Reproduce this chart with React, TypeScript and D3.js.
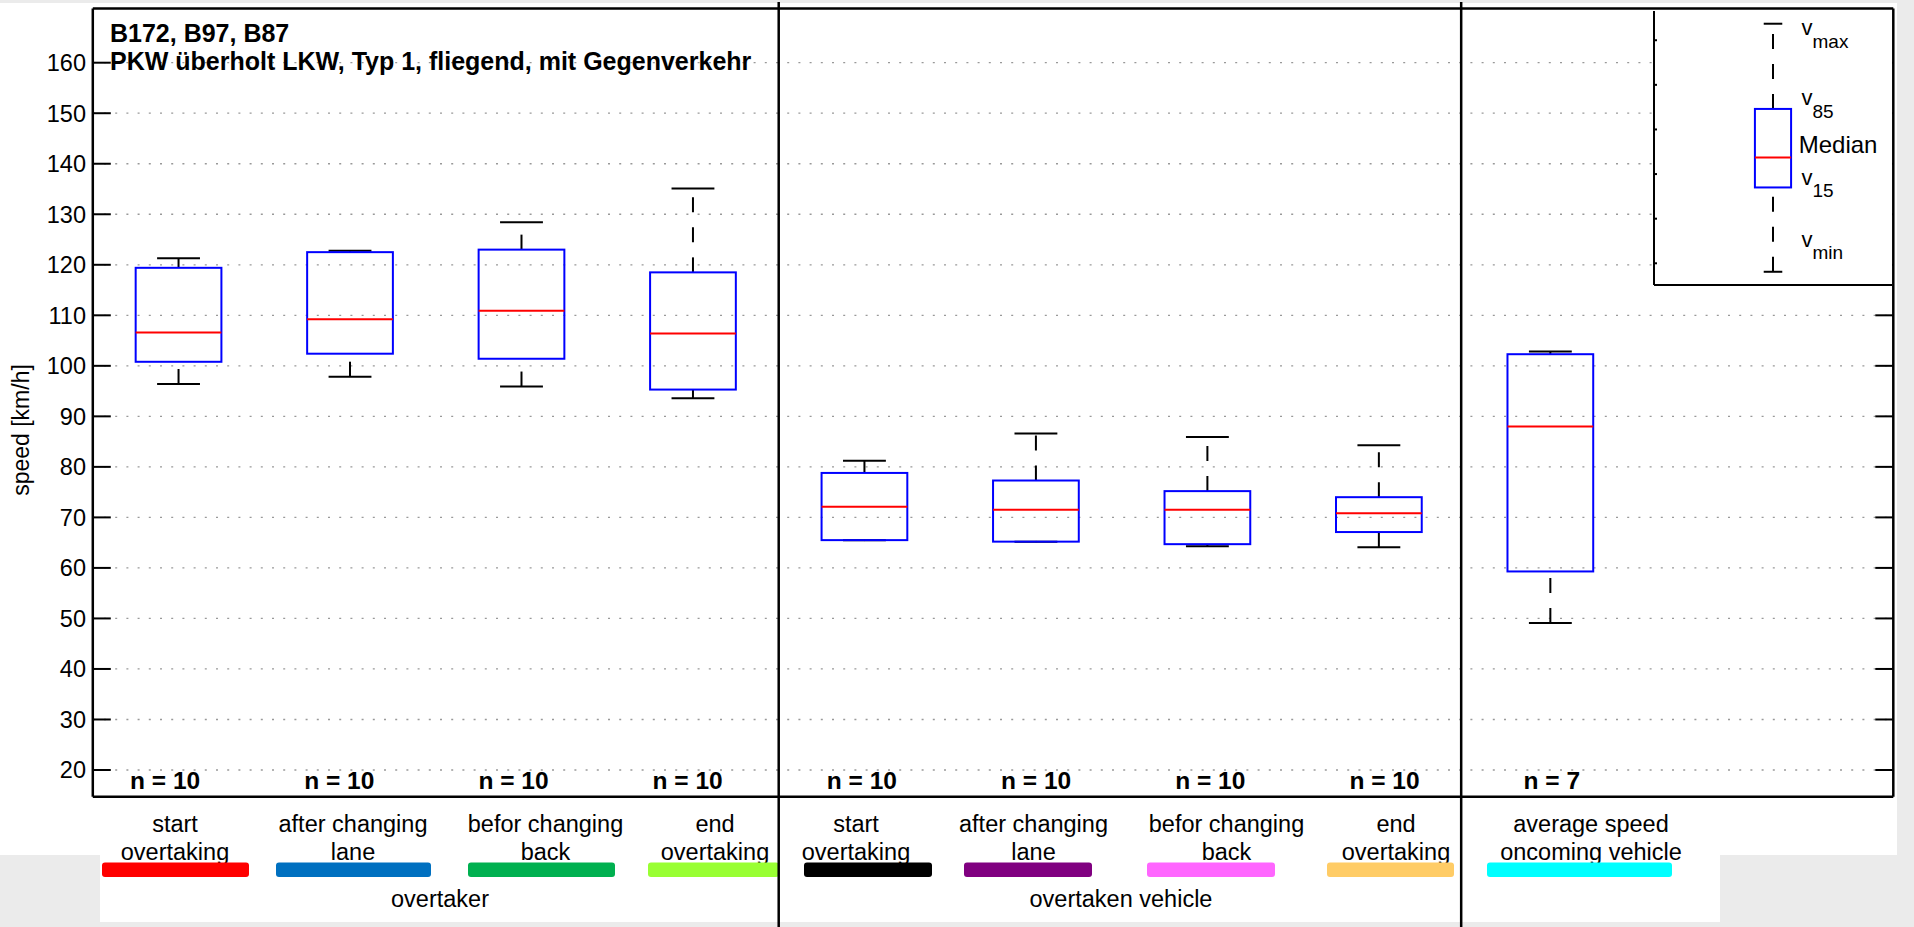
import React from 'react';
import * as d3 from 'd3';

// categories, two text lines each
const categories = [
  ['start', 'overtaking'],
  ['after changing', 'lane'],
  ['befor changing', 'back'],
  ['end', 'overtaking'],
  ['start', 'overtaking'],
  ['after changing', 'lane'],
  ['befor changing', 'back'],
  ['end', 'overtaking'],
  ['average speed', 'oncoming vehicle'],
];
const groups = ['overtaker', 'overtaken vehicle'];

// box statistics per category (km/h)
const vMin = [96.4, 97.85, 95.9, 93.6, 65.5, 65.2, 64.3, 64.1, 49.1];
const v15 = [100.8, 102.4, 101.4, 95.3, 65.5, 65.2, 64.7, 67.1, 59.3];
const vMedian = [106.6, 109.2, 110.9, 106.4, 72.1, 71.5, 71.5, 70.8, 88.0];
const v85 = [119.4, 122.5, 123.0, 118.5, 78.8, 77.3, 75.2, 74.0, 102.3];
const vMax = [121.3, 122.8, 128.4, 135.1, 81.2, 86.6, 85.9, 84.3, 102.85];
const sampleCounts = [10, 10, 10, 10, 10, 10, 10, 10, 7];

const yTicks = d3.range(20, 161, 10);
const swatchColors = ['#ff0000', '#0070c0', '#00b050', '#99ff33', '#000000', '#800080', '#ff66ff', '#ffcc66', '#00ffff'];

// key inset: sample box (min, v15, median, v85, max) in the inset's own units
const keyStats = [0.81, 2.7, 3.37, 4.46, 6.37];
const keyTicks = [1, 2, 3, 4, 5, 6];
const keyLabels = [['v', 'max'], ['v', '85'], ['Median', ''], ['v', '15'], ['v', 'min']];

// hand placed legend strip below the axis (pixels)
const stripCenters = [175, 353, 545.5, 715, 856, 1033.5, 1226.5, 1396, 1591];
const swatchSpans = [[102, 249], [276, 431], [468, 615], [648, 779], [804, 932], [964, 1092], [1147, 1275], [1327, 1454], [1487, 1672]];
const groupCenters = [440, 1121];
const keyLabelAt = [6.12, 4.55, 3.47, 2.76, 1.37];
const dividers = [4.5, 8.48];

const FONT = "'Liberation Sans', Arial, Helvetica, sans-serif";

export default function App() {
  const W = 1914, H = 927;
  const plot = { left: 92.8, right: 1893.3, top: 8.5, bottom: 796.7 };
  const x = d3.scaleLinear().domain([0.5, 11]).range([plot.left, plot.right]);
  const y = d3.scaleLinear().domain([20, 160]).range([770, 62.7]);
  const nx = d3.scaleLinear().domain([1, 9]).range([130, 1523.6]);
  const boxW = 0.5, capW = 0.25;

  const inset = { left: 1654, right: 1892, top: 9, bottom: 285 };
  const ix = d3.scaleLinear().domain([0.5, 1.5]).range([inset.left, inset.right]);
  const iy = d3.scaleLinear().domain([0.5, 6.7]).range([285.6, 9]);

  const dash = '15 15';

  return (
    <svg width={W} height={H} style={{ position: 'absolute', left: 0, top: 0, display: 'block' }} fontFamily={FONT}>
      <rect x={0} y={0} width={W} height={H} fill="#ebebeb" />
      <rect x={0} y={3} width={1897} height={852} fill="#fff" />
      <rect x={100} y={855} width={1620} height={67} fill="#fff" />

      {/* grid */}
      {yTicks.map(t => (
        <line key={'g' + t} x1={plot.left} x2={plot.right} y1={y(t)} y2={y(t)}
          stroke="#999" strokeWidth={1.3} strokeDasharray="2 9.2" />
      ))}

      {/* boxes */}
      {categories.map((c, i) => {
        const p = i + 1;
        const cx = x(p);
        return (
          <g key={'b' + i}>
            <path d={`M${cx},${y(v85[i])}V${y(vMax[i])}`} stroke="#000" strokeWidth={2} strokeDasharray={dash} fill="none" />
            <path d={`M${cx},${y(vMin[i])}V${y(v15[i])}`} stroke="#000" strokeWidth={2} strokeDasharray={dash} fill="none" />
            <line x1={x(p - capW / 2)} x2={x(p + capW / 2)} y1={y(vMax[i])} y2={y(vMax[i])} stroke="#000" strokeWidth={2} />
            <line x1={x(p - capW / 2)} x2={x(p + capW / 2)} y1={y(vMin[i])} y2={y(vMin[i])} stroke="#000" strokeWidth={2} />
            <rect x={x(p - boxW / 2)} y={y(v85[i])} width={x(p + boxW / 2) - x(p - boxW / 2)} height={y(v15[i]) - y(v85[i])}
              fill="none" stroke="#0000ff" strokeWidth={2} />
            <line x1={x(p - boxW / 2)} x2={x(p + boxW / 2)} y1={y(vMedian[i])} y2={y(vMedian[i])} stroke="#ff0000" strokeWidth={2} />
          </g>
        );
      })}

      {/* sample counts */}
      {sampleCounts.map((n, i) => (
        <text key={'n' + i} x={nx(i + 1)} y={789.3} fontSize={24.5} fontWeight="bold" fill="#000">{`n = ${n}`}</text>
      ))}

      {/* title */}
      <text x={110} y={41.7} fontSize={25} fontWeight="bold">B172, B97, B87</text>
      <text x={110} y={70} fontSize={25} fontWeight="bold">PKW überholt LKW, Typ 1, fliegend, mit Gegenverkehr</text>

      {/* axis ticks + labels */}
      {yTicks.map(t => (
        <g key={'t' + t}>
          <line x1={plot.left} x2={plot.left + 18} y1={y(t)} y2={y(t)} stroke="#000" strokeWidth={2} />
          <line x1={plot.right - 18} x2={plot.right} y1={y(t)} y2={y(t)} stroke="#000" strokeWidth={2} />
          <text x={86} y={y(t)} dy="0.36em" textAnchor="end" fontSize={23.5}>{t}</text>
        </g>
      ))}
      <text transform={`translate(29,430) rotate(-90)`} textAnchor="middle" fontSize={23}>speed [km/h]</text>

      {/* key inset */}
      <rect x={inset.left} y={inset.top} width={inset.right - inset.left} height={inset.bottom - inset.top} fill="#fff" />
      <line x1={inset.left} x2={inset.left} y1={inset.top + 2} y2={inset.bottom} stroke="#000" strokeWidth={2} />
      <line x1={inset.left} x2={inset.right} y1={inset.bottom} y2={inset.bottom} stroke="#000" strokeWidth={2} />
      {keyTicks.map(t => (
        <line key={'k' + t} x1={inset.left} x2={inset.left + 3} y1={iy(t)} y2={iy(t)} stroke="#000" strokeWidth={2} />
      ))}
      <path d={`M${ix(1)},${iy(keyStats[3])}V${iy(keyStats[4])}`} stroke="#000" strokeWidth={2} strokeDasharray={dash} fill="none" />
      <path d={`M${ix(1)},${iy(keyStats[0])}V${iy(keyStats[1])}`} stroke="#000" strokeWidth={2} strokeDasharray={dash} fill="none" />
      <line x1={ix(1 - 0.039)} x2={ix(1 + 0.039)} y1={iy(keyStats[4])} y2={iy(keyStats[4])} stroke="#000" strokeWidth={2} />
      <line x1={ix(1 - 0.039)} x2={ix(1 + 0.039)} y1={iy(keyStats[0])} y2={iy(keyStats[0])} stroke="#000" strokeWidth={2} />
      <rect x={ix(1 - 0.076)} y={iy(keyStats[3])} width={ix(1 + 0.076) - ix(1 - 0.076)} height={iy(keyStats[1]) - iy(keyStats[3])}
        fill="none" stroke="#0000ff" strokeWidth={2} />
      <line x1={ix(1 - 0.076)} x2={ix(1 + 0.076)} y1={iy(keyStats[2])} y2={iy(keyStats[2])} stroke="#ff0000" strokeWidth={2} />
      {keyLabels.map(([main, sub], i) => (
        main === 'Median'
          ? <text key={'kl' + i} x={ix(1.108)} y={iy(keyLabelAt[i])} fontSize={24}>{main}</text>
          : <text key={'kl' + i} x={ix(1.12)} y={iy(keyLabelAt[i])} fontSize={22}>
              {main}<tspan dy={12.7} fontSize={19}>{sub}</tspan>
            </text>
      ))}

      {/* frame */}
      <line x1={plot.left} x2={plot.left} y1={plot.top} y2={plot.bottom} stroke="#000" strokeWidth={2.5} />
      <line x1={plot.right} x2={plot.right} y1={plot.top} y2={plot.bottom} stroke="#000" strokeWidth={2.5} />
      <line x1={plot.left} x2={plot.right} y1={plot.top} y2={plot.top} stroke="#000" strokeWidth={2.5} />
      <line x1={plot.left} x2={plot.right} y1={plot.bottom} y2={plot.bottom} stroke="#000" strokeWidth={2.5} />

      {/* category labels and colour swatches */}
      {categories.map((c, i) => (
        <text key={'c' + i} x={stripCenters[i]} textAnchor="middle" fontSize={23.5}>
          <tspan x={stripCenters[i]} y={831.7}>{c[0]}</tspan>
          <tspan x={stripCenters[i]} y={860}>{c[1]}</tspan>
        </text>
      ))}
      {swatchSpans.map(([a, b], i) => (
        <rect key={'s' + i} x={a} y={862.5} width={b - a} height={14.5} rx={3} fill={swatchColors[i]} />
      ))}
      {groups.map((g, i) => (
        <text key={'gr' + i} x={groupCenters[i]} y={906.5} textAnchor="middle" fontSize={23.5}>{g}</text>
      ))}

      {/* group dividers */}
      {dividers.map(d => (
        <line key={'d' + d} x1={x(d)} x2={x(d)} y1={2} y2={H} stroke="#000" strokeWidth={2.5} />
      ))}
    </svg>
  );
}
